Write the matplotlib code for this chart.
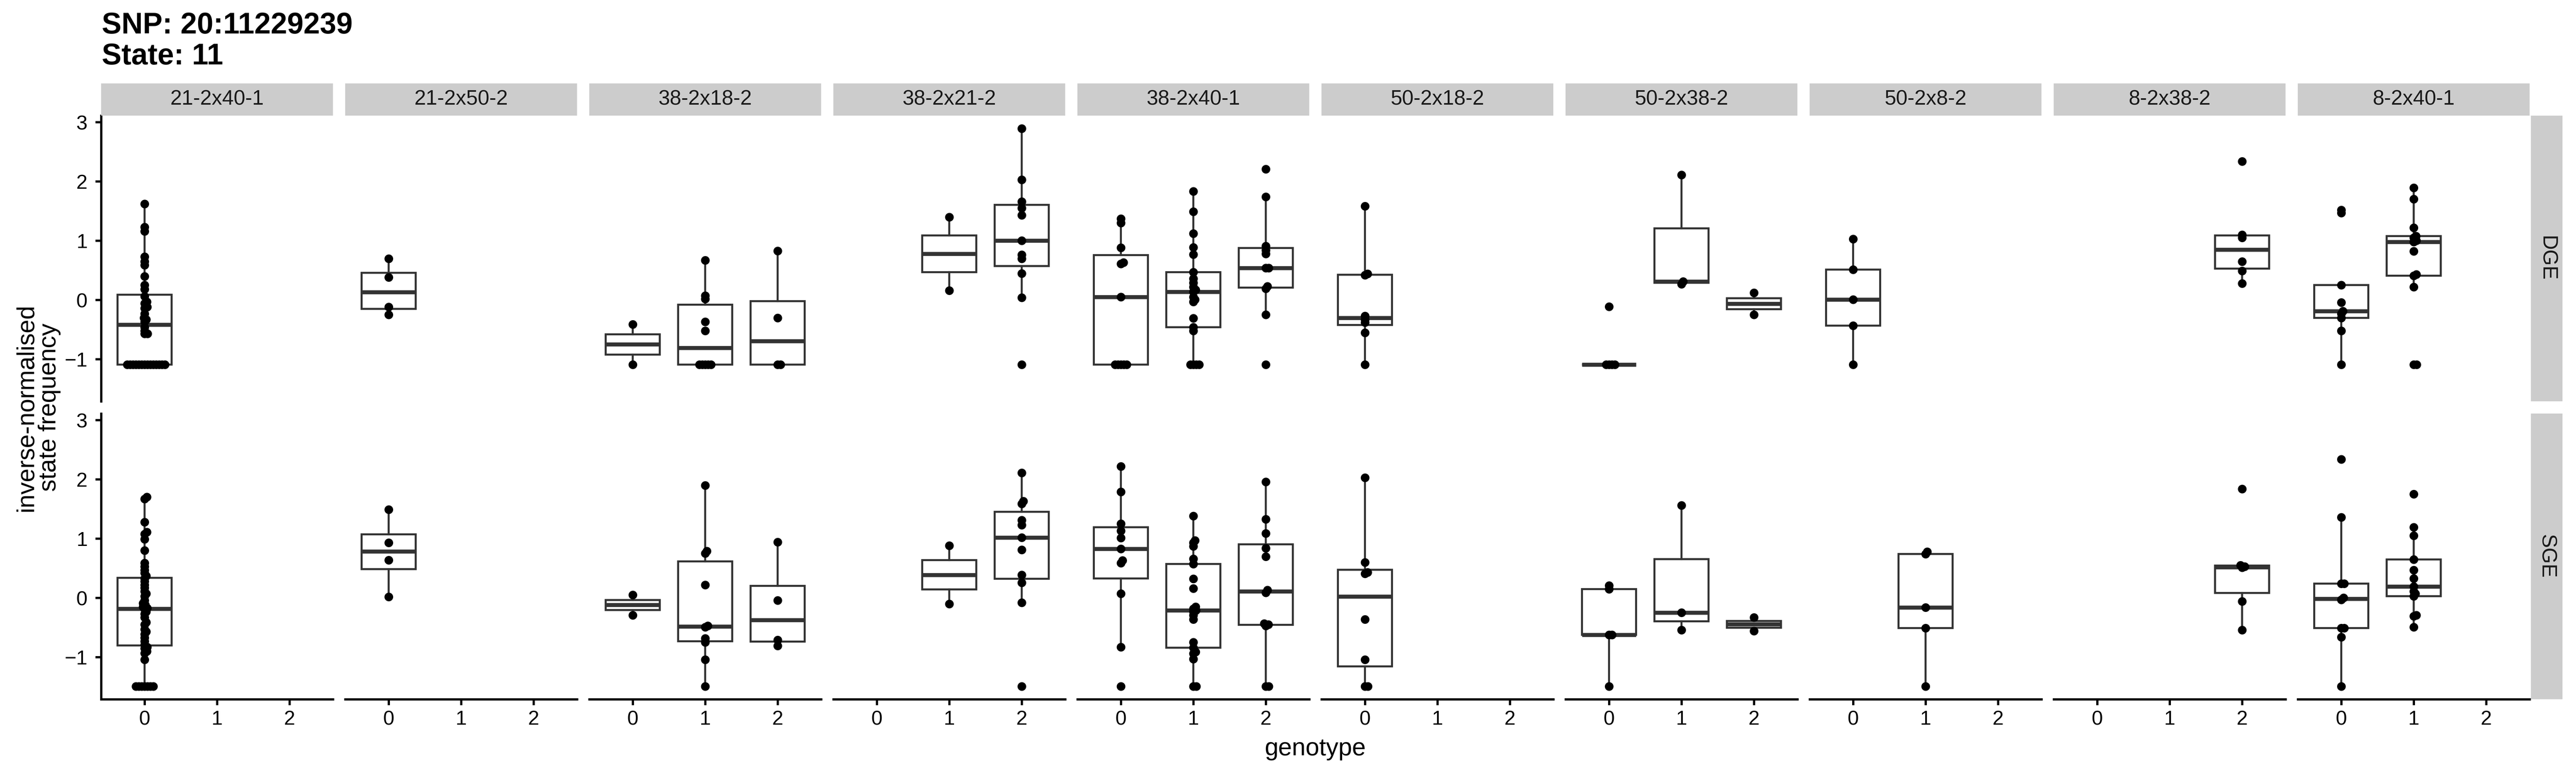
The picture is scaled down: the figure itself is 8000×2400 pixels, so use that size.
import numpy as np
import matplotlib
matplotlib.use("Agg")
import matplotlib.pyplot as plt
from matplotlib.patches import Rectangle

plt.rcParams['font.family'] = ['Liberation Sans', 'DejaVu Sans']

title_lines = ["SNP: 20:11229239", "State: 11"]
crosses = ["21-2x40-1", "21-2x50-2", "38-2x18-2", "38-2x21-2", "38-2x40-1",
           "50-2x18-2", "50-2x38-2", "50-2x8-2", "8-2x38-2", "8-2x40-1"]
rows = ["DGE", "SGE"]
genotypes = [0, 1, 2]

# inverse-normalised state frequency (genotype -> values)
dge_21_2x40_1 = {0: [1.62, 1.23, 1.16, 0.73, 0.65, 0.59, 0.40, 0.25, 0.18, 0.06, -0.03,
                     -0.06, -0.12, -0.14, -0.23, -0.30, -0.33, -0.37, -0.46, -0.52,
                     -0.57, -0.57] + [-1.09] * 14}
sge_21_2x40_1 = {0: [1.70, 1.67, 1.28, 1.11, 1.08, 0.99, 0.80, 0.59, 0.53, 0.47, 0.42,
                     0.37, 0.33, 0.28, 0.22, 0.17, 0.11, 0.07, 0.03, -0.04, -0.09,
                     -0.12, -0.15, -0.17, -0.19, -0.23, -0.27, -0.33, -0.41, -0.45,
                     -0.53, -0.57, -0.61, -0.67, -0.73, -0.79, -0.83, -0.85, -0.90,
                     -0.93, -1.04] + [-1.49] * 7}

dge_21_2x50_2 = {0: [0.70, 0.38, -0.12, -0.25]}
sge_21_2x50_2 = {0: [1.49, 0.93, 0.64, 0.02]}

dge_38_2x18_2 = {0: [-0.41, -1.09],
                 1: [0.67, 0.07, 0.02, -0.37, -0.52] + [-1.09] * 5,
                 2: [0.83, -0.30, -1.09, -1.09]}
sge_38_2x18_2 = {0: [0.05, -0.29],
                 1: [1.90, 0.79, 0.75, 0.22, -0.47, -0.49, -0.68, -0.75, -1.04, -1.49],
                 2: [0.94, -0.04, -0.71, -0.81]}

dge_38_2x21_2 = {1: [1.40, 0.16],
                 2: [2.89, 2.03, 1.66, 1.55, 1.43, 1.00, 0.76, 0.70, 0.45, 0.04, -1.09]}
sge_38_2x21_2 = {1: [0.88, -0.10],
                 2: [2.11, 1.63, 1.59, 1.31, 1.23, 1.02, 0.81, 0.39, 0.26, -0.08, -1.49]}

dge_38_2x40_1 = {0: [1.37, 1.30, 0.88, 0.63, 0.61, 0.05] + [-1.09] * 5,
                 1: [1.83, 1.49, 1.12, 0.89, 0.77, 0.47, 0.36, 0.29, 0.22, 0.17, 0.14,
                     0.05, 0.01, -0.03, -0.31, -0.46, -0.52] + [-1.09] * 4,
                 2: [2.21, 1.74, 0.91, 0.84, 0.78, 0.54, 0.54, 0.23, 0.19, -0.25, -1.09]}
sge_38_2x40_1 = {0: [2.22, 1.79, 1.25, 1.13, 1.01, 0.83, 0.63, 0.59, 0.07, -0.83, -1.49],
                 1: [1.38, 0.97, 0.93, 0.87, 0.66, 0.57, 0.32, 0.16, -0.15, -0.18, -0.21,
                     -0.23, -0.29, -0.36, -0.75, -0.84, -0.91, -0.94, -1.03, -1.49, -1.49],
                 2: [1.96, 1.33, 1.09, 0.84, 0.70, 0.13, 0.09, -0.43, -0.45, -0.47,
                     -1.49, -1.49]}

dge_50_2x18_2 = {0: [1.58, 0.44, 0.42, -0.27, -0.33, -0.38, -0.55, -1.09]}
sge_50_2x18_2 = {0: [2.03, 0.60, 0.43, 0.41, -0.36, -1.04, -1.49, -1.49]}

dge_50_2x38_2 = {0: [-0.11] + [-1.09] * 4,
                 1: [2.11, 0.31, 0.27],
                 2: [0.12, -0.25]}
sge_50_2x38_2 = {0: [0.21, 0.15, -0.62, -0.62, -1.49],
                 1: [1.56, -0.25, -0.54],
                 2: [-0.33, -0.56]}

dge_50_2x8_2 = {0: [1.03, 0.51, 0.01, -0.43, -1.09]}
sge_50_2x8_2 = {1: [0.78, 0.74, -0.16, -0.51, -1.49]}

dge_8_2x38_2 = {2: [2.34, 1.10, 1.05, 0.65, 0.49, 0.28]}
sge_8_2x38_2 = {2: [1.84, 0.55, 0.53, 0.51, -0.06, -0.54]}

dge_8_2x40_1 = {0: [1.52, 1.47, 0.25, -0.04, -0.19, -0.23, -0.30, -0.52, -1.09],
                1: [1.89, 1.70, 1.22, 1.08, 1.05, 1.00, 0.98, 0.82, 0.43, 0.41, 0.22,
                    -1.09, -1.09]}
sge_8_2x40_1 = {0: [2.34, 1.36, 0.24, 0.24, 0.00, -0.03, -0.51, -0.51, -0.66, -1.49],
                1: [1.75, 1.19, 1.05, 0.65, 0.47, 0.33, 0.19, 0.11, 0.07, 0.03, -0.29,
                    -0.31, -0.49]}

dge = [dge_21_2x40_1, dge_21_2x50_2, dge_38_2x18_2, dge_38_2x21_2, dge_38_2x40_1,
       dge_50_2x18_2, dge_50_2x38_2, dge_50_2x8_2, dge_8_2x38_2, dge_8_2x40_1]
sge = [sge_21_2x40_1, sge_21_2x50_2, sge_38_2x18_2, sge_38_2x21_2, sge_38_2x40_1,
       sge_50_2x18_2, sge_50_2x38_2, sge_50_2x8_2, sge_8_2x38_2, sge_8_2x40_1]
facets = {"DGE": dict(zip(crosses, dge)), "SGE": dict(zip(crosses, sge))}

# layout in pixels of the 8000x2400 output
W, H = 8000, 2400
panel_left, panel_w, panel_gap = 314, 720, 38
row_tops = [359, 1284]
panel_h = 887
strip_h = 100
rstrip_x, rstrip_w = 7860, 98
box_col = "#333333"
strip_col = "#CCCCCC"


def fx(px):
    return px / W


def fy(py):
    return 1 - py / H


def swarm(vals, xpx, ypx, spacing=9.0):
    """beeswarm style offsets: points move sideways only where they would collide."""
    vals = np.asarray(vals, float)
    xs = np.zeros(len(vals))
    placed = []
    for i in np.argsort(vals, kind="stable"):
        y = vals[i] * ypx
        cands = [0.0]
        for px, py in placed:
            dy = y - py
            if abs(dy) < spacing:
                dx = np.sqrt(spacing ** 2 - dy ** 2)
                cands += [px + dx, px - dx]
        cands.sort(key=abs)
        for c in cands:
            if all((c - px) ** 2 + (y - py) ** 2 >= spacing ** 2 - 1e-6 for px, py in placed):
                break
        xs[i] = c
        placed.append((c, y))
    return xs / xpx


all_vals = [v for r in rows for c in crosses for g in facets[r][c].values() for v in g]
lo, hi = min(all_vals), max(all_vals)
pad = 0.05 * (hi - lo)
ylim = (lo - pad, hi + pad)
xlim = (-0.6, 2.6)
xpx = panel_w / (xlim[1] - xlim[0])
ypx = panel_h / (ylim[1] - ylim[0])

fig = plt.figure(figsize=(16, 4.8), dpi=500)

for ri, row in enumerate(rows):
    top = row_tops[ri]
    for ci, cross in enumerate(crosses):
        left = panel_left + ci * (panel_w + panel_gap)
        ax = fig.add_axes([fx(left), fy(top + panel_h), panel_w / W, panel_h / H])
        groups = facets[row][cross]
        for g, vals in groups.items():
            ax.boxplot([vals], positions=[g], widths=0.75, whis=1.5, showfliers=False,
                       showcaps=False, patch_artist=True, manage_ticks=False,
                       boxprops=dict(facecolor="white", edgecolor=box_col, linewidth=0.9),
                       whiskerprops=dict(color=box_col, linewidth=0.9),
                       medianprops=dict(color=box_col, linewidth=1.8, solid_capstyle="butt"))
            off = swarm(vals, xpx, ypx)
            ax.scatter(g + off, vals, s=15, color="black", linewidths=0, zorder=3)
        ax.set_xlim(*xlim)
        ax.set_ylim(*ylim)
        for s in ax.spines.values():
            s.set_visible(False)
        ax.tick_params(length=2.6, width=1.0, color="black", labelsize=9,
                       labelcolor="black")
        ax.tick_params(axis="y", pad=3.5)
        ax.tick_params(axis="x", pad=2.2)
        if ci == 0:
            ax.spines["left"].set_visible(True)
            ax.spines["left"].set_linewidth(1.0)
            ax.set_yticks([-1, 0, 1, 2, 3])
        else:
            ax.set_yticks([])
        if ri == 1:
            ax.spines["bottom"].set_visible(True)
            ax.spines["bottom"].set_linewidth(1.0)
            ax.set_xticks(genotypes)
            ax.set_xticklabels([str(g) for g in genotypes])
        else:
            ax.set_xticks([])

        if ri == 0:
            fig.patches.append(Rectangle((fx(left), fy(top)), panel_w / W, strip_h / H,
                                         transform=fig.transFigure, facecolor=strip_col,
                                         edgecolor="none"))
            fig.text(fx(left + panel_w / 2), fy(top - strip_h / 2), cross, ha="center",
                     va="center", fontsize=9.3, color="#1A1A1A")

    fig.patches.append(Rectangle((fx(rstrip_x), fy(top + panel_h)), rstrip_w / W, panel_h / H,
                                 transform=fig.transFigure, facecolor=strip_col,
                                 edgecolor="none"))
    fig.text(fx(rstrip_x + rstrip_w / 2), fy(top + panel_h / 2), row, rotation=270,
             ha="center", va="center", fontsize=9.3, color="#1A1A1A")

fig.text(fx(316), fy(104), title_lines[0], ha="left", va="baseline", fontsize=13.2,
         fontweight="bold")
fig.text(fx(316), fy(200), title_lines[1], ha="left", va="baseline", fontsize=13.2,
         fontweight="bold")
fig.text(fx((panel_left + rstrip_x - 4) / 2), fy(2345), "genotype", ha="center",
         va="baseline", fontsize=11)
fig.text(fx(118), fy((row_tops[0] + row_tops[1] + panel_h) / 2),
         "inverse-normalised\nstate frequency", rotation=90, ha="center", va="center",
         multialignment="center", fontsize=11, linespacing=1.0)

fig.savefig("out.png", dpi=500, facecolor="white")
